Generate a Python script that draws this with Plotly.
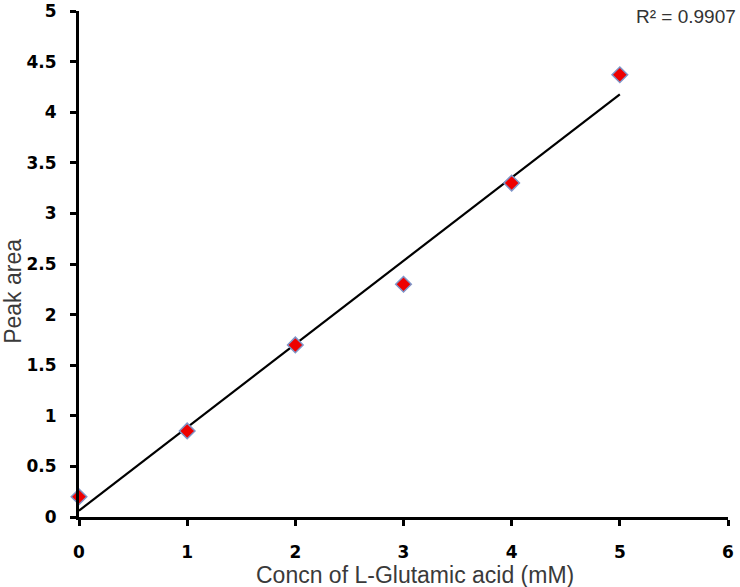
import numpy as np
import plotly.graph_objects as go

conc = [0, 1, 2, 3, 4, 5]
peak_area = [0.2, 0.85, 1.7, 2.3, 3.3, 4.37]
x_ticks = [0, 1, 2, 3, 4, 5, 6]
y_ticks = [0, 0.5, 1, 1.5, 2, 2.5, 3, 3.5, 4, 4.5, 5]
y_tick_text = ["0", "0.5", "1", "1.5", "2", "2.5", "3", "3.5", "4", "4.5", "5"]

xa = np.array(conc, dtype=float)
ya = np.array(peak_area, dtype=float)
slope, intercept = np.polyfit(xa, ya, 1)
fit_x = [xa.min(), xa.max()]
fit_y = [slope * v + intercept for v in fit_x]

fig = go.Figure()
fig.add_trace(go.Scatter(x=fit_x, y=fit_y, mode="lines",
                         line=dict(color="black", width=2.2), showlegend=False,
                         cliponaxis=False))
fig.add_trace(go.Scatter(x=conc, y=peak_area, mode="markers",
                         marker=dict(symbol="diamond", size=12, color="#ee0000",
                                     line=dict(color="#7f95c8", width=1.5)),
                         showlegend=False, cliponaxis=False))

fig.add_annotation(text="R² = 0.9907", xref="paper", yref="paper",
                   x=1.0, xshift=10, y=1.0, yshift=-5, xanchor="right", yanchor="middle", showarrow=False,
                   font=dict(family="Liberation Sans, Arial", size=19, color="#333333"))

titlefont = dict(family="Liberation Sans, Arial", size=23, color="#3a3a3a")
fig.add_annotation(text="Concn of L-Glutamic acid (mM)", xref="paper", yref="paper",
                   x=0.518, y=0, yshift=-58, xanchor="center", yanchor="middle", showarrow=False,
                   font=titlefont)
fig.add_annotation(text="Peak area", xref="paper", yref="paper", textangle=-90,
                   x=0, xshift=-66, y=0.445, xanchor="center", yanchor="middle", showarrow=False,
                   font=titlefont)

tickfont = dict(family="DejaVu Sans", size=17, color="black", weight="bold")

fig.update_layout(
    width=740, height=587,
    margin=dict(l=79, r=12, t=11, b=70),
    plot_bgcolor="white", paper_bgcolor="white",
    xaxis=dict(range=[0, 6], tickvals=x_ticks, showgrid=False, zeroline=False,
               showline=True, linecolor="black", linewidth=3, automargin=False,
               ticks="outside", ticklen=6, tickwidth=2.5, tickcolor="black",
               ticklabelstandoff=12,
               tickfont=tickfont),
    yaxis=dict(range=[0, 5], tickvals=y_ticks, ticktext=y_tick_text, showgrid=False, zeroline=False,
               showline=True, linecolor="black", linewidth=3, automargin=False,
               ticks="outside", ticklen=6, tickwidth=2.5, tickcolor="black",
               ticklabelstandoff=10,
               tickfont=tickfont),
)

fig.write_html("out.html", config={"displayModeBar": False},
               post_script="document.body.style.margin='0';document.body.style.overflow='hidden';")
